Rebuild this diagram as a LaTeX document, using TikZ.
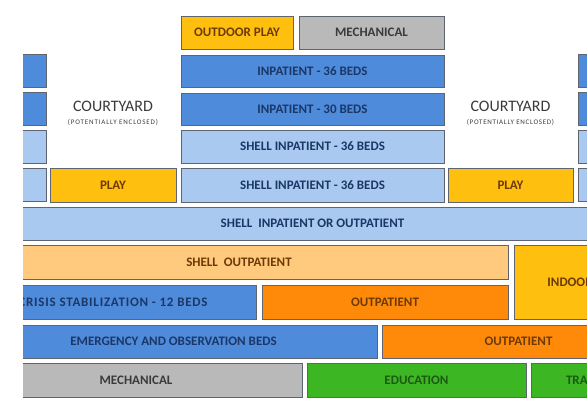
\documentclass[tikz,border=0pt]{standalone}
\usepackage{fontspec}
\setmainfont{Carlito}
\definecolor{inpblue}{HTML}{4F8BDB}
\definecolor{shellblue}{HTML}{A9C9F0}
\definecolor{playyellow}{HTML}{FFBF0F}
\definecolor{lightorange}{HTML}{FFC97E}
\definecolor{deeporange}{HTML}{FF8A0A}
\definecolor{mechgray}{HTML}{B9B9B9}
\definecolor{edugreen}{HTML}{3DB623}
\definecolor{edgegray}{HTML}{5E6470}
\definecolor{bluetext}{HTML}{1B3767}
\definecolor{browntext}{HTML}{6B3A05}
\definecolor{greentext}{HTML}{1C5A12}
\definecolor{graytext}{HTML}{3A3A3A}

\begin{document}
\begin{tikzpicture}[x=1pt,y=-1pt,
  block/.style={draw=edgegray, line width=0.8pt, inner sep=0pt,
    font=\fontsize{13}{14}\selectfont\bfseries},
  inp/.style={block, fill=inpblue, text=bluetext},
  shell/.style={block, fill=shellblue, text=bluetext},
  play/.style={block, fill=playyellow, text=browntext},
  outp/.style={block, fill=deeporange, text=browntext},
  mech/.style={block, fill=mechgray, text=graytext},
  edu/.style={block, fill=edugreen, text=greentext}]
  \useasboundingbox (0,0) rectangle (587,401);
  \clip (23,0) rectangle (587,401);
  % top row
  \node[play, minimum width=112, minimum height=33] (outplay) at (237,32.5) {OUTDOOR PLAY};
  \node[mech, minimum width=145, minimum height=33] (mechtop) at (371.5,32.5) {MECHANICAL};
  % side wings, cut by the picture edge
  \foreach \yc/\fc [count=\i] in {71/inpblue,109/inpblue,146.5/shellblue,185/shellblue} {
    \node[block, fill=\fc, minimum width=126, minimum height=33] (lwing\i) at (-17,\yc) {};
    \node[block, fill=\fc, minimum width=126, minimum height=33] (rwing\i) at (641,\yc) {};
  }
  % inpatient stack
  \node[inp, minimum width=263, minimum height=32] (inpA) at (312.5,71) {INPATIENT - 36 BEDS};
  \node[inp, minimum width=263, minimum height=32] (inpB) at (312.5,109) {INPATIENT - 30 BEDS};
  \node[shell, minimum width=263, minimum height=33] (shellA) at (312.5,146.5) {SHELL INPATIENT - 36 BEDS};
  \node[shell, minimum width=263, minimum height=34] (shellB) at (312.5,185) {SHELL INPATIENT - 36 BEDS};
  % courtyards
  \node[font=\fontsize{16}{17}\selectfont, text=graytext] (courtL) at (113,106) {COURTYARD};
  \node[font=\fontsize{7}{8}\selectfont\addfontfeature{LetterSpace=12}, text=graytext] (courtLsub) at (113,122) {(POTENTIALLY ENCLOSED)};
  \node[font=\fontsize{16}{17}\selectfont, text=graytext] (courtR) at (510.5,106) {COURTYARD};
  \node[font=\fontsize{7}{8}\selectfont\addfontfeature{LetterSpace=10}, text=graytext] (courtRsub) at (510.5,122) {(POTENTIALLY ENCLOSED)};
  \node[play, minimum width=126, minimum height=34] (playL) at (113,185) {PLAY};
  \node[play, minimum width=125, minimum height=34] (playR) at (510.5,185) {PLAY};
  % lower floor
  \node[shell, minimum width=685, minimum height=33] (shellio) at (312.5,223.5) {SHELL\ \ INPATIENT OR OUTPATIENT};
  \node[block, fill=lightorange, text=browntext, minimum width=538, minimum height=34] (shellout) at (239,262) {SHELL\ \ OUTPATIENT};
  \node[play, minimum width=141, minimum height=74] (indoor) at (584.5,282) {INDOOR PLAY};
  \node[inp, minimum width=286, minimum height=34, font=\fontsize{13}{14}\selectfont\bfseries\addfontfeature{LetterSpace=6}] (crisis) at (113,302) {CRISIS STABILIZATION - 12 BEDS};
  \node[outp, minimum width=246, minimum height=34] (outpA) at (385,302) {OUTPATIENT};
  \node[inp, minimum width=407, minimum height=33] (emerg) at (173.5,341.5) {EMERGENCY AND OBSERVATION BEDS};
  \node[outp, minimum width=273, minimum height=33] (outpB) at (518.5,341.5) {OUTPATIENT};
  \node[mech, minimum width=332, minimum height=34] (mechbot) at (136,380) {MECHANICAL};
  \node[edu, minimum width=219, minimum height=34] (educ) at (416.5,380) {EDUCATION};
  \node[edu, minimum width=124, minimum height=34] (train) at (593,380) {TRAINING};
\end{tikzpicture}
\end{document}
